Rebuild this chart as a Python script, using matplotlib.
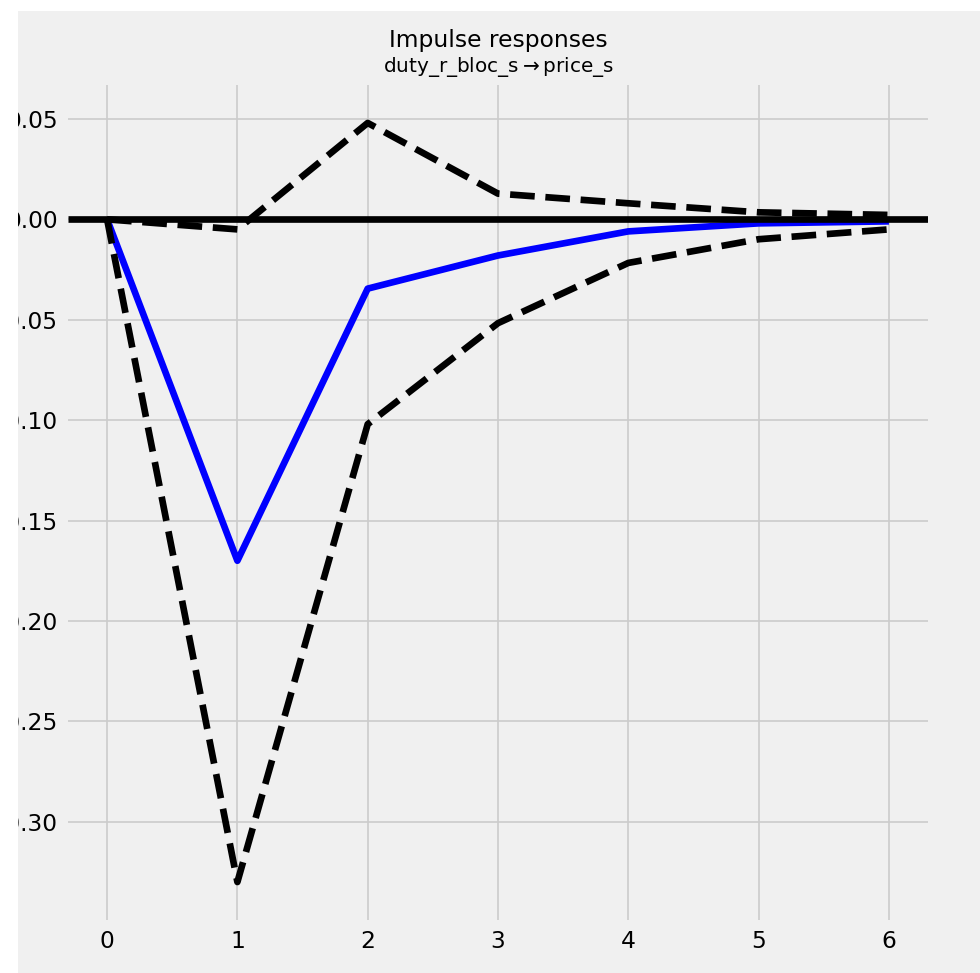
import matplotlib
matplotlib.use("Agg")
import matplotlib.pyplot as plt
from matplotlib.patches import Rectangle

plt.style.use("fivethirtyeight")

periods = [0, 1, 2, 3, 4, 5, 6]
irf = [0.0, -0.170, -0.0345, -0.018, -0.006, -0.002, -0.001]
upper = [0.0, -0.005, 0.048, 0.0128, 0.008, 0.0035, 0.0022]
lower = [0.0, -0.330, -0.102, -0.0517, -0.0217, -0.0099, -0.005]
yticks = [0.05, 0.00, -0.05, -0.10, -0.15, -0.20, -0.25, -0.30]
suptitle = "Impulse responses"
subtitle = r"duty_r_bloc_s$\rightarrow$price_s"

W, H = 980, 973
fig = plt.figure(figsize=(W / 100, H / 100), dpi=100, facecolor="#f0f0f0")
ax = fig.add_axes([68 / W, (H - 920) / H, (928 - 68) / W, (920 - 85) / H])
ax.set_facecolor("#f0f0f0")

lw = 4.8
ax.plot(periods, irf, color="b", lw=lw)
ax.plot(periods, upper, "k--", lw=lw)
ax.plot(periods, lower, "k--", lw=lw)
ax.axhline(0, color="k", lw=lw)

ax.set_xticks(periods)
ax.set_yticks(yticks)
ax.set_yticklabels([f"{v:.2f}" for v in yticks])
ax.tick_params(labelsize=16.8, pad=7)
ax.grid(True, color="#cbcbcb", lw=1.2)
for s in ax.spines.values():
    s.set_visible(False)

fig.text(498 / W, 1 - 40 / H, suptitle, ha="center", va="center", fontsize=16.8)
fig.text(498 / W, 1 - 67 / H, subtitle, ha="center", va="center", fontsize=14.4)

# white border strips (left and top)
fig.patches.append(Rectangle((0, 0), 18 / W, 1, transform=fig.transFigure,
                             facecolor="white", edgecolor="none", zorder=10))
fig.patches.append(Rectangle((0, 1 - 11 / H), 1, 11 / H, transform=fig.transFigure,
                             facecolor="white", edgecolor="none", zorder=10))

fig.savefig("out.png", dpi=100, facecolor="#f0f0f0")
